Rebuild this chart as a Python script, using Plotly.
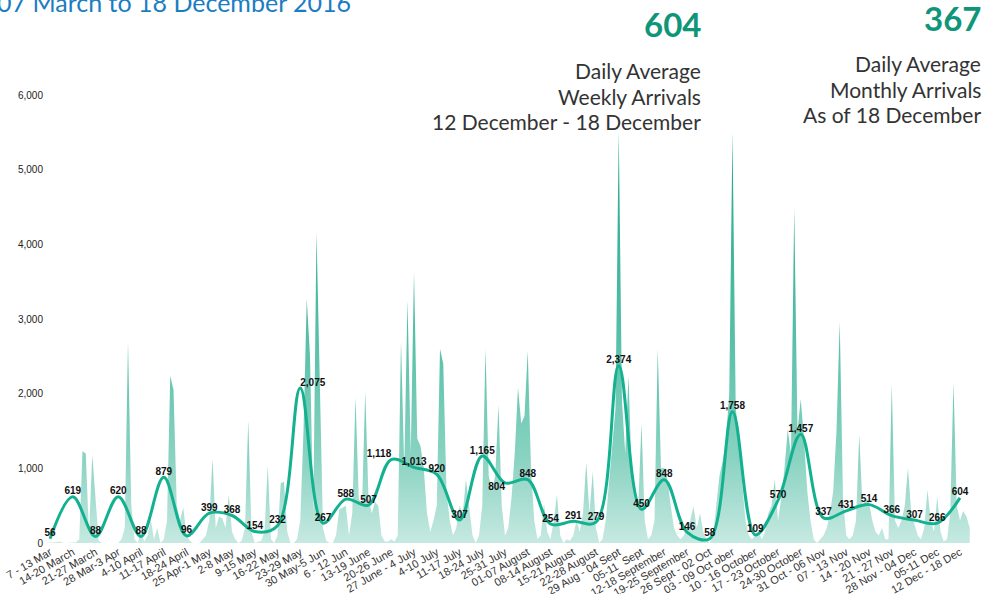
import plotly.graph_objects as go
import pandas as pd

# ---------------- data ----------------
week_labels = [
    "7 - 13 Mar", "14-20 March", "21-27 March", "28 Mar-3 Apr", "4-10 April",
    "11-17 April", "18-24 April", "25 Apr-1 May", "2-8 May", "9-15 May",
    "16-22 May", "23-29 May", "30 May-5 Jun", "6 - 12 Jun", "13-19 June",
    "20-26 June", "27 June - 4 July", "4-10 July", "11-17 July", "18-24 July",
    "25-31 July", "01-07 August", "08-14 August", "15-21 August", "22-28 August",
    "29 Aug - 04 Sept", "05-11  Sept", "12-18 September", "19-25 September",
    "26 Sept - 02 Oct", "03 - 09 Oct ober", "10 - 16 October", "17 - 23 October",
    "24-30 October", "31 Oct - 06 Nov", "07 - 13 Nov", "14 - 20 Nov",
    "21 - 27 Nov", "28 Nov - 04 Dec", "05-11 Dec", "12 Dec - 18 Dec",
]

weekly_avg = [56, 619, 88, 620, 88, 879, 96, 399, 368, 154, 232, 2075, 267,
              588, 507, 1118, 1013, 920, 307, 1165, 804, 848, 254, 291, 279,
              2374, 450, 848, 146, 58, 1758, 109, 570, 1457, 337, 431, 514,
              366, 307, 266, 604]

label_pos = ["top center"] * len(weekly_avg)
label_pos[11] = "top right"
label_pos[15] = "top left"
label_pos[20] = "bottom left"

# daily arrivals, 7 March - 18 December 2016 (one row per week)
daily_arrivals = [
    0, 0, 0, 0, 0, 10, 20,
    0, 0, 0, 0, 10, 50, 1230,
    1200, 100, 1180, 650, 30, 0, 0,
    0, 0, 0, 0, 50, 200, 2690,
    520, 50, 0, 150, 20, 100, 310,
    50, 200, 0, 50, 300, 2240, 2050,
    500, 300, 480, 100, 30, 0, 0,
    0, 50, 100, 300, 1120, 200, 350,
    330, 200, 650, 150, 50, 0, 30,
    200, 1640, 150, 0, 20, 30, 150,
    1030, 50, 0, 100, 800, 820, 150,
    0, 0, 50, 300, 1500, 3270, 2500,
    400, 4170, 2200, 200, 30, 0, 0,
    100, 450, 480, 500, 100, 400, 1950,
    600, 500, 2030, 600, 400, 550, 500,
    100, 20, 20, 50, 20, 100, 2700,
    1000, 3250, 1200, 3630, 1400, 1300, 1000,
    400, 150, 300, 500, 2600, 2400, 700,
    300, 100, 200, 500, 400, 850, 450,
    100, 0, 100, 500, 2600, 900, 700,
    900, 1850, 500, 100, 200, 600, 1200,
    2080, 1600, 1700, 2570, 1000, 300, 50,
    100, 530, 150, 50, 300, 650, 100,
    0, 50, 30, 100, 300, 150, 400,
    1070, 400, 950, 200, 0, 50, 300,
    800, 1200, 1800, 5510, 1900, 1200, 2240,
    900, 600, 500, 1600, 300, 50, 100,
    300, 2600, 1000, 1000, 850, 500, 200,
    100, 50, 100, 200, 300, 490, 200,
    400, 150, 50, 0, 100, 500, 900,
    1100, 1400, 2000, 5500, 1800, 1400, 800,
    300, 100, 50, 100, 150, 50, 150,
    400, 500, 850, 300, 600, 1000, 1520,
    1200, 4480, 1500, 1930, 1400, 700, 300,
    50, 0, 50, 100, 200, 400, 700,
    1500, 2960, 600, 100, 50, 100, 300,
    1450, 500, 600, 550, 300, 150, 100,
    200, 50, 50, 2130, 300, 200, 300,
    500, 1000, 400, 250, 100, 50, 200,
    710, 300, 150, 620, 150, 20, 50,
    400, 2150, 500, 300, 430, 350, 200,
]

start_date = pd.Timestamp("2016-03-07")
dates = pd.date_range(start_date, periods=len(daily_arrivals), freq="D")

# ---------------- layout geometry ----------------
W, H = 988, 594
ML, MR, MT, MB = 47, 13, 95, 51
x_lo, x_hi = -0.132, 40.66
# matching date range for the daily axis (week i is centred on day 7*i+3)
d_lo = start_date + pd.Timedelta(days=x_lo * 7 + 3)
d_hi = start_date + pd.Timedelta(days=x_hi * 7 + 3)

TEAL_LINE = "#14b190"

fig = go.Figure()

# daily area on the (hidden) date axis
fig.add_trace(go.Scatter(
    x=dates, y=daily_arrivals, xaxis="x", yaxis="y",
    mode="lines", line=dict(width=0, color="#7fcfbe"),
    fill="tozeroy",
    fillgradient=dict(type="vertical",
                      colorscale=[[0, "#c6e9e1"], [0.2, "#8ad3c2"],
                                  [0.5, "#55bfa7"], [1, "#1ca78a"]],
                      start=0, stop=5600),
    hoverinfo="skip", showlegend=False,
))

# weekly average line on the visible category axis (drawn on top)
fig.add_trace(go.Scatter(
    x=list(range(len(weekly_avg))), y=weekly_avg, xaxis="x2", yaxis="y",
    mode="lines+text",
    line=dict(color=TEAL_LINE, width=3, shape="spline", smoothing=1.0),
    text=[f"<b>{v:,}</b>" for v in weekly_avg],
    textposition=label_pos,
    textfont=dict(family="Liberation Sans, Arial", size=10, color="#111111"),
    cliponaxis=False, showlegend=False,
))


def px_x(px):
    return (px - ML) / (W - ML - MR)


def px_y(py):
    return (H - MB - py) / (H - MT - MB)


annotations = []
annotations.append(dict(
    text="07 March to 18 December 2016", xref="paper", yref="paper",
    x=px_x(353), y=px_y(2), xanchor="right", yanchor="middle",
    showarrow=False, font=dict(family="Lato", size=25, color="#1b7dc1"),
))
annotations.append(dict(
    text="<b>604</b>", xref="paper", yref="paper",
    x=px_x(703), y=px_y(24), xanchor="right", yanchor="middle",
    showarrow=False, font=dict(family="Lato", size=33, color="#0e957a"),
))
annotations.append(dict(
    text="<b>367</b>", xref="paper", yref="paper",
    x=px_x(983), y=px_y(18), xanchor="right", yanchor="middle",
    showarrow=False, font=dict(family="Lato", size=33, color="#0e957a"),
))
block1 = ["Daily Average", "Weekly Arrivals", "12 December - 18 December"]
block2 = ["Daily Average", "Monthly Arrivals", "As of 18 December"]
for i, t in enumerate(block1):
    annotations.append(dict(
        text=t, xref="paper", yref="paper",
        x=px_x(703), y=px_y(71 + 25.5 * i), xanchor="right", yanchor="middle",
        showarrow=False, font=dict(family="Lato", size=21, color="#333333"),
    ))
for i, t in enumerate(block2):
    annotations.append(dict(
        text=t, xref="paper", yref="paper",
        x=px_x(983), y=px_y(64 + 25.5 * i), xanchor="right", yanchor="middle",
        showarrow=False, font=dict(family="Lato", size=21, color="#333333"),
    ))

fig.update_layout(
    width=W, height=H,
    margin=dict(l=ML, r=MR, t=MT, b=MB, pad=0, autoexpand=False),
    paper_bgcolor="white", plot_bgcolor="white",
    showlegend=False,
    xaxis=dict(range=[d_lo, d_hi], type="date", visible=False,
               automargin=False),
    xaxis2=dict(
        overlaying="x", side="bottom", anchor="y",
        range=[x_lo, x_hi], tickmode="array",
        tickvals=list(range(len(week_labels))), ticktext=week_labels,
        tickangle=-30, showgrid=False, zeroline=False, showline=False,
        ticks="", automargin=False,
        tickfont=dict(family="Liberation Sans, Arial", size=11, color="#333333"),
    ),
    yaxis=dict(
        range=[0, 6000], tickvals=[0, 1000, 2000, 3000, 4000, 5000, 6000],
        tickformat=",", showgrid=False, zeroline=False, showline=False,
        ticks="", automargin=False, ticklabelstandoff=3,
        tickfont=dict(family="Liberation Sans, Arial", size=10, color="#222222"),
    ),
    annotations=annotations,
)

fig.write_html(
    "out.html",
    config={"displayModeBar": False},
    post_script="document.body.style.margin='0px';"
                "document.body.style.overflow='hidden';",
)
